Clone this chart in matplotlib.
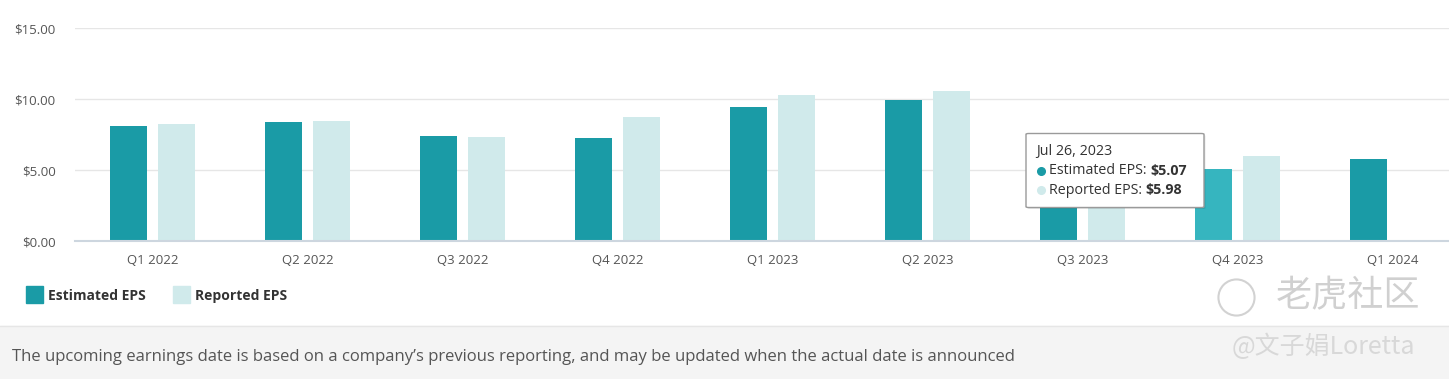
import numpy as np
import matplotlib
matplotlib.use('Agg')
import matplotlib.pyplot as plt
from matplotlib.patches import Rectangle, FancyBboxPatch

plt.rcParams['font.family'] = ['Open Sans', 'Noto Sans CJK SC', 'DejaVu Sans']

# data
quarters = ['Q1 2022', 'Q2 2022', 'Q3 2022', 'Q4 2022', 'Q1 2023',
            'Q2 2023', 'Q3 2023', 'Q4 2023', 'Q1 2024']
estimated = [8.12, 8.40, 7.42, 7.25, 9.43, 9.95, 6.50, 5.07, 5.82]
reported = [8.26, 8.47, 7.32, 8.73, 10.32, 10.58, 7.00, 5.98, np.nan]
y_ticks = [0, 5, 10, 15]
y_labels = ['$0.00', '$5.00', '$10.00', '$15.00']
tip_date = 'Jul 26, 2023'
tip_est = '$5.07'
tip_rep = '$5.98'
highlight = 7  # hovered quarter

W, H = 1449, 379
fig = plt.figure(figsize=(W / 100, H / 100), dpi=100)
fig.patch.set_facecolor('white')

def px(x, y):
    return x / W, 1 - y / H

# axes: x from 75px, $0 at y=241, $15 at y=28
x0 = 75
left, bottom = px(x0, 241.3)
_, top = px(0, 28)
ax = fig.add_axes([left, bottom, 1 - left, top - bottom])
ax.set_facecolor('none')

teal = '#1a9ba6'
teal_hi = '#36b5bf'
light = '#d0eaeb'

x = np.arange(len(quarters))
bw = 36.5 / 155
off = 24 / 155
est_colors = [teal_hi if i == highlight else teal for i in range(len(quarters))]
ax.bar(x - off, estimated, bw, color=est_colors, zorder=3)
ax.bar(x + off, reported, bw, color=light, zorder=3)

ax.set_xlim(-0.5, -0.5 + (W - x0) / 155)
ax.set_ylim(0, 15)
ax.set_yticks(y_ticks)
ax.set_yticklabels(y_labels)
ax.set_xticks(x)
ax.set_xticklabels(quarters)
ax.tick_params(axis='both', length=0, labelsize=9.5, colors='#555555')
ax.tick_params(axis='y', pad=14)
ax.tick_params(axis='x', pad=9)
ax.grid(axis='y', color='#e6e6e6', linewidth=1, zorder=0)
for s in ['top', 'right', 'left']:
    ax.spines[s].set_visible(False)
ax.spines['bottom'].set_color('#cdd6df')
ax.spines['bottom'].set_linewidth(1.5)
ax.spines['bottom'].set_zorder(4)

# legend
for sx, lab, col in [(26, 'Estimated EPS', teal), (173, 'Reported EPS', light)]:
    bx, by = px(sx, 303)
    fig.patches.append(Rectangle((bx, by), 17 / W, 17 / H, color=col,
                                 transform=fig.transFigure, figure=fig))
    tx, ty = px(sx + 22, 296)
    fig.text(tx, ty, lab, fontsize=10, fontweight='bold', color='#333333',
             va='center', ha='left')

# footer band
fig.patches.append(Rectangle((0, 0), 1, 53 / H, color='#f4f4f4',
                             transform=fig.transFigure, figure=fig, zorder=0))
fig.add_artist(plt.Line2D([0, 1], [53 / H, 53 / H], color='#e6e6e6', lw=1,
                          transform=fig.transFigure))
tx, ty = px(12, 357)
fig.text(tx, ty, 'The upcoming earnings date is based on a company\u2019s previous '
         'reporting, and may be updated when the actual date is announced',
         fontsize=12, color='#555555', va='center', ha='left')

# tooltip
bx, by = px(1026, 207.5)
fig.patches.append(FancyBboxPatch((bx + 1.5 / W, by - 1.5 / H), 178 / W, 74 / H,
                                  boxstyle='round,pad=0,rounding_size=0.002',
                                  facecolor='#00000018', edgecolor='none',
                                  transform=fig.transFigure, figure=fig, zorder=9))
fig.patches.append(FancyBboxPatch((bx, by), 178 / W, 74 / H,
                                  boxstyle='round,pad=0,rounding_size=0.002',
                                  facecolor='white', edgecolor='#9a9a9a', lw=1,
                                  transform=fig.transFigure, figure=fig, zorder=10))
tx, ty = px(1036, 152)
fig.text(tx, ty, tip_date, fontsize=10.3, color='#333333', va='center', zorder=11)
for yy, col, name, val in [(171, teal, 'Estimated EPS: ', tip_est),
                           (190, light, 'Reported EPS: ', tip_rep)]:
    cx, cy = px(1041, yy)
    fig.add_artist(plt.Line2D([cx], [cy], marker='o', markersize=5.5, color=col,
                              linestyle='none', transform=fig.transFigure, zorder=11))
    tx, ty = px(1049, yy)
    t = fig.text(tx, ty, name, fontsize=10.3, color='#333333', va='center', zorder=11)
    fig.canvas.draw()
    bb = t.get_window_extent()
    fig.text(bb.x1 / W, ty, val, fontsize=10.3, fontweight='bold', color='#333333',
             va='center', zorder=11)

# watermark
cx, cy = px(1236, 297)
fig.add_artist(plt.Line2D([cx], [cy], marker='o', markersize=26, markerfacecolor='none',
                          markeredgecolor='#d2d2d2', markeredgewidth=1.5,
                          linestyle='none', transform=fig.transFigure, zorder=12))
tx, ty = px(1276, 296)
fig.text(tx, ty, '老虎社区', fontsize=26, color='#d0d0d0', va='center',
         family=['Noto Sans CJK SC', 'DejaVu Sans'], zorder=12)
tx, ty = px(1232, 347)
fig.text(tx, ty, '@文子娟Loretta', fontsize=18, color='#d8d8d8', va='center',
         family=['Noto Sans CJK SC', 'DejaVu Sans'], zorder=12)

fig.savefig('out.png', dpi=100)
